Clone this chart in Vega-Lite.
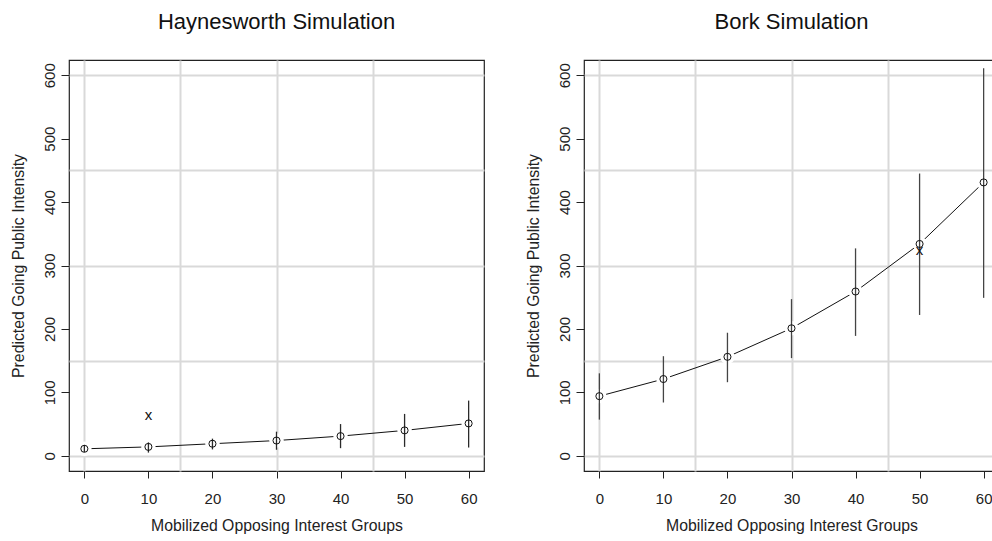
{
  "$schema": "https://vega.github.io/schema/vega-lite/v6.json",
  "padding": {"left": 9, "top": 10, "right": 0, "bottom": 0},
  "spacing": 39,
  "config": {
    "font": "Liberation Sans",
    "view": {"stroke": "#222", "strokeWidth": 1.2},
    "title": {"fontSize": 22, "fontWeight": "normal", "color": "#111", "baseline": "bottom", "offset": 26, "anchor": "middle"},
    "axis": {"labelColor": "#222", "titleColor": "#222", "tickColor": "#222", "labelFont": "Liberation Sans", "titleFont": "Liberation Sans"}
  },
  "datasets": {
    "haynesworth": [
      {"groups": 0, "estimate": 11, "lower": 6, "upper": 17, "actual": null},
      {"groups": 10, "estimate": 14, "lower": 5, "upper": 21, "actual": 65},
      {"groups": 20, "estimate": 19, "lower": 10, "upper": 27, "actual": null},
      {"groups": 30, "estimate": 24, "lower": 9.5, "upper": 38, "actual": null},
      {"groups": 40, "estimate": 31, "lower": 12, "upper": 50, "actual": null},
      {"groups": 50, "estimate": 40, "lower": 14, "upper": 66, "actual": null},
      {"groups": 60, "estimate": 51, "lower": 13, "upper": 87, "actual": null}
    ],
    "bork": [
      {"groups": 0, "estimate": 94, "lower": 57, "upper": 130, "actual": null},
      {"groups": 10, "estimate": 121, "lower": 84, "upper": 157, "actual": null},
      {"groups": 20, "estimate": 156, "lower": 116, "upper": 194, "actual": null},
      {"groups": 30, "estimate": 201, "lower": 154, "upper": 247, "actual": null},
      {"groups": 40, "estimate": 259, "lower": 189, "upper": 327, "actual": null},
      {"groups": 50, "estimate": 334, "lower": 222, "upper": 445, "actual": 324},
      {"groups": 60, "estimate": 431, "lower": 249, "upper": 611, "actual": null}
    ]
  },
  "hconcat": [
    {
      "title": "Haynesworth Simulation",
      "width": 415,
      "height": 411,
      "data": {"name": "haynesworth"},
      "layer": [
        {
          "mark": {"type": "line", "color": "#111", "strokeWidth": 1},
          "encoding": {
            "x": {"field": "groups", "type": "quantitative", "scale": {"domain": [-2.4, 62.4], "nice": false, "zero": false},
              "axis": {"orient": "bottom", "values": [0, 10, 20, 30, 40, 50, 60], "grid": false, "domain": false, "tickSize": 7, "labelFontSize": 15, "labelPadding": 13, "title": "Mobilized Opposing Interest Groups", "titleFontSize": 15.8, "titleFontWeight": "normal", "titlePadding": 12}},
            "y": {"field": "estimate", "type": "quantitative", "scale": {"domain": [-24, 624], "nice": false, "zero": false},
              "axis": {"orient": "left", "values": [0, 100, 200, 300, 400, 500, 600], "grid": false, "domain": false, "tickSize": 8, "labelFontSize": 15, "labelAngle": -90, "labelAlign": "center", "labelBaseline": "bottom", "labelPadding": 4, "title": "Predicted Going Public Intensity", "titleFontSize": 15.8, "titleFontWeight": "normal", "titlePadding": 16}}
          }
        },
        {
          "mark": {"type": "point", "shape": "circle", "filled": true, "fill": "white", "opacity": 1, "size": 210, "strokeWidth": 0},
          "encoding": {
            "x": {"field": "groups", "type": "quantitative", "axis": {"orient": "top", "values": [0, 15, 30, 45], "grid": true, "gridColor": "#d9d9d9", "gridWidth": 2, "labels": false, "ticks": false, "domain": false, "title": null, "minExtent": 0, "maxExtent": 0}},
            "y": {"field": "estimate", "type": "quantitative", "axis": {"orient": "right", "values": [0, 150, 300, 450, 600], "grid": true, "gridColor": "#d9d9d9", "gridWidth": 2, "labels": false, "ticks": false, "domain": false, "title": null, "minExtent": 0, "maxExtent": 0}}
          }
        },
        {
          "mark": {"type": "rule", "color": "#2a2a2a", "strokeWidth": 1.3},
          "encoding": {
            "x": {"field": "groups", "type": "quantitative", "axis": null},
            "y": {"field": "lower", "type": "quantitative", "axis": null},
            "y2": {"field": "upper"}
          }
        },
        {
          "mark": {"type": "point", "shape": "circle", "filled": false, "color": "#111", "size": 50, "strokeWidth": 1, "opacity": 1},
          "encoding": {
            "x": {"field": "groups", "type": "quantitative", "axis": null},
            "y": {"field": "estimate", "type": "quantitative", "axis": null}
          }
        },
        {
          "mark": {"type": "text", "text": "x", "fontSize": 15, "color": "#111", "baseline": "middle", "align": "center"},
          "encoding": {
            "x": {"field": "groups", "type": "quantitative", "axis": null},
            "y": {"field": "actual", "type": "quantitative", "axis": null}
          }
        }
      ],
      "resolve": {"axis": {"x": "independent", "y": "independent"}}
    },
    {
      "title": "Bork Simulation",
      "width": 415,
      "height": 411,
      "data": {"name": "bork"},
      "layer": [
        {
          "mark": {"type": "line", "color": "#111", "strokeWidth": 1},
          "encoding": {
            "x": {"field": "groups", "type": "quantitative", "scale": {"domain": [-2.4, 62.4], "nice": false, "zero": false},
              "axis": {"orient": "bottom", "values": [0, 10, 20, 30, 40, 50, 60], "grid": false, "domain": false, "tickSize": 7, "labelFontSize": 15, "labelPadding": 13, "title": "Mobilized Opposing Interest Groups", "titleFontSize": 15.8, "titleFontWeight": "normal", "titlePadding": 12}},
            "y": {"field": "estimate", "type": "quantitative", "scale": {"domain": [-24, 624], "nice": false, "zero": false},
              "axis": {"orient": "left", "values": [0, 100, 200, 300, 400, 500, 600], "grid": false, "domain": false, "tickSize": 8, "labelFontSize": 15, "labelAngle": -90, "labelAlign": "center", "labelBaseline": "bottom", "labelPadding": 4, "title": "Predicted Going Public Intensity", "titleFontSize": 15.8, "titleFontWeight": "normal", "titlePadding": 16}}
          }
        },
        {
          "mark": {"type": "point", "shape": "circle", "filled": true, "fill": "white", "opacity": 1, "size": 210, "strokeWidth": 0},
          "encoding": {
            "x": {"field": "groups", "type": "quantitative", "axis": {"orient": "top", "values": [0, 15, 30, 45], "grid": true, "gridColor": "#d9d9d9", "gridWidth": 2, "labels": false, "ticks": false, "domain": false, "title": null, "minExtent": 0, "maxExtent": 0}},
            "y": {"field": "estimate", "type": "quantitative", "axis": {"orient": "right", "values": [0, 150, 300, 450, 600], "grid": true, "gridColor": "#d9d9d9", "gridWidth": 2, "labels": false, "ticks": false, "domain": false, "title": null, "minExtent": 0, "maxExtent": 0}}
          }
        },
        {
          "mark": {"type": "rule", "color": "#444", "strokeWidth": 1.3},
          "encoding": {
            "x": {"field": "groups", "type": "quantitative", "axis": null},
            "y": {"field": "lower", "type": "quantitative", "axis": null},
            "y2": {"field": "upper"}
          }
        },
        {
          "mark": {"type": "point", "shape": "circle", "filled": false, "color": "#111", "size": 50, "strokeWidth": 1, "opacity": 1},
          "encoding": {
            "x": {"field": "groups", "type": "quantitative", "axis": null},
            "y": {"field": "estimate", "type": "quantitative", "axis": null}
          }
        },
        {
          "mark": {"type": "text", "text": "x", "fontSize": 15, "color": "#111", "baseline": "middle", "align": "center"},
          "encoding": {
            "x": {"field": "groups", "type": "quantitative", "axis": null},
            "y": {"field": "actual", "type": "quantitative", "axis": null}
          }
        }
      ],
      "resolve": {"axis": {"x": "independent", "y": "independent"}}
    }
  ]
}
